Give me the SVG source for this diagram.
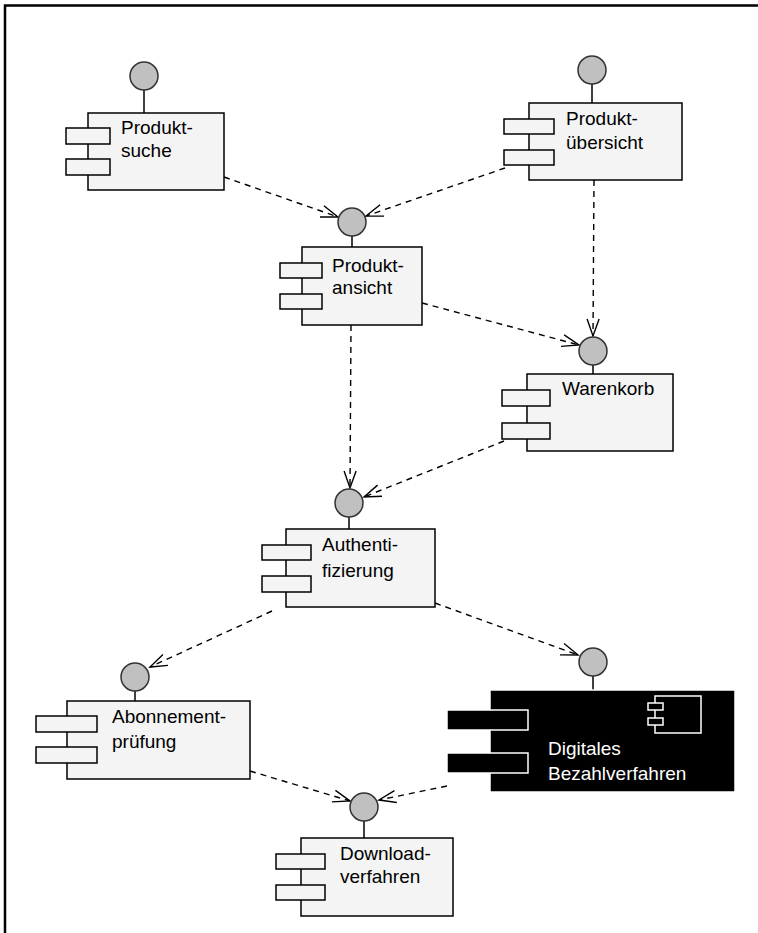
<svg xmlns="http://www.w3.org/2000/svg" width="758" height="933" viewBox="0 0 758 933">
  <style>
    .box { fill: #f4f4f4; stroke: #000; stroke-width: 1.5; }
    .port { fill: #f4f4f4; stroke: #000; stroke-width: 1.5; }
    .iface { fill: #c0c0c0; stroke: #333; stroke-width: 1.5; }
    .stem { stroke: #000; stroke-width: 1.5; }
    .lbl { font-family: "Liberation Sans", Arial, sans-serif; font-size: 19px; fill: #000; }
    .dark .box, .dark .port { fill: #000; stroke: #fff; }
    .dark .lbl { fill: #fff; }
    .dep { fill: none; stroke: #000; stroke-width: 1.4; stroke-dasharray: 6 5; marker-end: url(#open); }
  </style>
  <defs>
    <marker id="open" markerUnits="userSpaceOnUse" markerWidth="24" markerHeight="16" viewBox="-19 -8 22 16" refX="0" refY="0" orient="auto">
      <path d="M-17,-6 L0,0 L-17,6" fill="none" stroke="#000" stroke-width="1.4"/>
    </marker>
  </defs>

  <rect width="758" height="933" fill="#fff"/>
  <!-- frame -->
  <path d="M5,933 V5.5 H758" fill="none" stroke="#000" stroke-width="2.5"/>

  <!-- dependencies -->
  <g id="connectors">
    <path class="dep" d="M224,177 L338,217"/>
    <path class="dep" d="M505,168 L366,216"/>
    <path class="dep" d="M594,180 L593,336"/>
    <path class="dep" d="M422,303 L579,345"/>
    <path class="dep" d="M351,325 L350,488"/>
    <path class="dep" d="M504,441 L364,497"/>
    <path class="dep" d="M272,611 L150,667"/>
    <path class="dep" d="M435,603 L578,655"/>
    <path class="dep" d="M250,771 L350,801"/>
    <path class="dep" d="M447,786 L379,800"/>
  </g>

  <g id="produktsuche">
    <line class="stem" x1="144" y1="90" x2="144" y2="113"/>
    <circle class="iface" cx="144" cy="76" r="14"/>
    <rect class="box" x="88" y="113" width="136" height="77"/>
    <rect class="port" x="66" y="128" width="44" height="16"/>
    <rect class="port" x="66" y="159" width="44" height="16"/>
    <text class="lbl" x="121" y="134">Produkt-</text>
    <text class="lbl" x="121" y="157">suche</text>
  </g>

  <g id="produktuebersicht">
    <line class="stem" x1="592" y1="84" x2="592" y2="103"/>
    <circle class="iface" cx="592" cy="70" r="14"/>
    <rect class="box" x="529" y="103" width="153" height="77"/>
    <rect class="port" x="504" y="119" width="50" height="15"/>
    <rect class="port" x="504" y="150" width="50" height="15"/>
    <text class="lbl" x="566" y="125">Produkt-</text>
    <text class="lbl" x="566" y="149">übersicht</text>
  </g>

  <g id="produktansicht">
    <line class="stem" x1="352" y1="236" x2="352" y2="247"/>
    <circle class="iface" cx="352" cy="222" r="14"/>
    <rect class="box" x="302" y="247" width="120" height="78"/>
    <rect class="port" x="280" y="263" width="42" height="15"/>
    <rect class="port" x="280" y="294" width="42" height="15"/>
    <text class="lbl" x="332" y="272">Produkt-</text>
    <text class="lbl" x="332" y="294">ansicht</text>
  </g>

  <g id="warenkorb">
    <line class="stem" x1="593" y1="365" x2="593" y2="374"/>
    <circle class="iface" cx="593" cy="351" r="14"/>
    <rect class="box" x="527" y="374" width="146" height="77"/>
    <rect class="port" x="502" y="390" width="48" height="16"/>
    <rect class="port" x="502" y="423" width="48" height="16"/>
    <text class="lbl" x="562" y="395">Warenkorb</text>
  </g>

  <g id="authentifizierung">
    <line class="stem" x1="349" y1="517" x2="349" y2="529"/>
    <circle class="iface" cx="349" cy="503" r="14"/>
    <rect class="box" x="286" y="529" width="149" height="78"/>
    <rect class="port" x="262" y="545" width="49" height="15"/>
    <rect class="port" x="262" y="576" width="49" height="16"/>
    <text class="lbl" x="322" y="551">Authenti-</text>
    <text class="lbl" x="322" y="577">fizierung</text>
  </g>

  <g id="abonnementpruefung">
    <line class="stem" x1="135" y1="691" x2="135" y2="701"/>
    <circle class="iface" cx="135" cy="677" r="14"/>
    <rect class="box" x="67" y="701" width="183" height="78"/>
    <rect class="port" x="36" y="716" width="61" height="16"/>
    <rect class="port" x="36" y="747" width="61" height="16"/>
    <text class="lbl" x="112" y="723">Abonnement-</text>
    <text class="lbl" x="112" y="748">prüfung</text>
  </g>

  <g id="digitales-bezahlverfahren" class="dark">
    <line class="stem" x1="593" y1="676" x2="593" y2="690"/>
    <circle class="iface" cx="593" cy="662" r="14"/>
    <rect class="box" x="490" y="690" width="245" height="102"/>
    <rect class="port" x="447" y="710" width="81" height="20"/>
    <rect class="port" x="447" y="753" width="81" height="20"/>
    <!-- component icon -->
    <rect class="box" x="655" y="696" width="46" height="37"/>
    <rect class="port" x="648" y="703" width="15" height="7"/>
    <rect class="port" x="648" y="718" width="15" height="7"/>
    <text class="lbl" x="548" y="755">Digitales</text>
    <text class="lbl" x="548" y="780">Bezahlverfahren</text>
  </g>

  <g id="downloadverfahren">
    <line class="stem" x1="364" y1="821" x2="364" y2="838"/>
    <circle class="iface" cx="364" cy="807" r="14"/>
    <rect class="box" x="301" y="838" width="152" height="78"/>
    <rect class="port" x="276" y="854" width="49" height="15"/>
    <rect class="port" x="276" y="885" width="49" height="15"/>
    <text class="lbl" x="340" y="860">Download-</text>
    <text class="lbl" x="340" y="883">verfahren</text>
  </g>
</svg>
